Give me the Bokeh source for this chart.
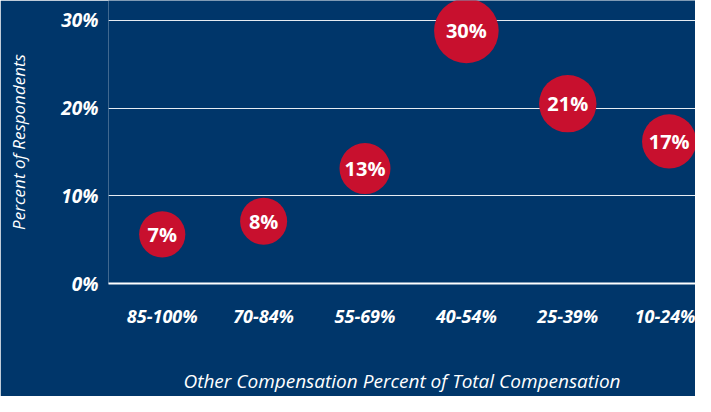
from bokeh.plotting import figure
from bokeh.models import Range1d, ColumnDataSource, FixedTicker, CustomJSTickFormatter
from bokeh.core.properties import value
from bokeh.embed import file_html
from bokeh.resources import INLINE

categories = ["85-100%", "70-84%", "55-69%", "40-54%", "25-39%", "10-24%"]
percent = [7, 8, 13, 30, 21, 17]
bubble_y = [5.6, 7.1, 13.1, 28.8, 20.5, 16.2]
y_ticks = [0, 10, 20, 30]

BG = "#00366A"
RED = "#C8102E"

xpos = [i + 0.5 for i in range(len(categories))]

src = ColumnDataSource(dict(
    x=xpos,
    y=bubble_y,
    label=[f"{v}%" for v in percent],
    size=[2 * (20.3 + 0.4 * v) for v in percent],
))

p = figure(
    width=695, height=396,
    x_range=Range1d(-0.03, 5.76),
    y_range=Range1d(0, 32.26),
    output_backend="svg", toolbar_location=None,
    background_fill_color=BG, border_fill_color=BG,
    min_border_left=108, min_border_right=0, min_border_top=0, min_border_bottom=111,
)
p.outline_line_color = None

p.scatter("x", "y", size="size", source=src, fill_color=RED, line_color=None)
p.text("x", "y", text="label", source=src, text_color="white",
       text_font=value("Open Sans"), text_font_style="bold", text_font_size="20px",
       text_align="center", text_baseline="middle")

# grid
p.xgrid.grid_line_color = None
p.ygrid.ticker = FixedTicker(ticks=y_ticks[1:])
p.ygrid.grid_line_color = "#E6ECF2"
p.ygrid.grid_line_width = 1.2

# y axis
p.yaxis.ticker = FixedTicker(ticks=y_ticks)
p.yaxis.formatter = CustomJSTickFormatter(code="return tick + '%'")
p.yaxis.axis_line_color = None
p.yaxis.major_tick_line_color = None
p.yaxis.minor_tick_line_color = None
p.yaxis.major_label_standoff = 4
p.yaxis.major_label_text_color = "white"
p.yaxis.major_label_text_font = "Open Sans"
p.yaxis.major_label_text_font_style = "bold italic"
p.yaxis.major_label_text_font_size = "19px"
p.yaxis.axis_label = "Percent of Respondents"
p.yaxis.axis_label_text_color = "white"
p.yaxis.axis_label_text_font = "Open Sans"
p.yaxis.axis_label_text_font_style = "italic"
p.yaxis.axis_label_text_font_size = "17px"
p.yaxis.axis_label_standoff = 28

# x axis
p.xaxis.ticker = FixedTicker(ticks=xpos)
p.xaxis.major_label_overrides = {x: c for x, c in zip(xpos, categories)}
p.xaxis.axis_line_color = "white"
p.xaxis.axis_line_width = 2
p.xaxis.major_tick_line_color = None
p.xaxis.minor_tick_line_color = None
p.xaxis.major_label_standoff = 14
p.xaxis.major_label_text_color = "white"
p.xaxis.major_label_text_font = "Open Sans"
p.xaxis.major_label_text_font_style = "bold italic"
p.xaxis.major_label_text_font_size = "18px"
p.xaxis.axis_label = "Other Compensation Percent of Total Compensation"
p.xaxis.axis_label_text_color = "white"
p.xaxis.axis_label_text_font = "Open Sans"
p.xaxis.axis_label_text_font_style = "italic"
p.xaxis.axis_label_text_font_size = "19px"
p.xaxis.axis_label_standoff = 37

open("out.html", "w").write(file_html(p, INLINE))
